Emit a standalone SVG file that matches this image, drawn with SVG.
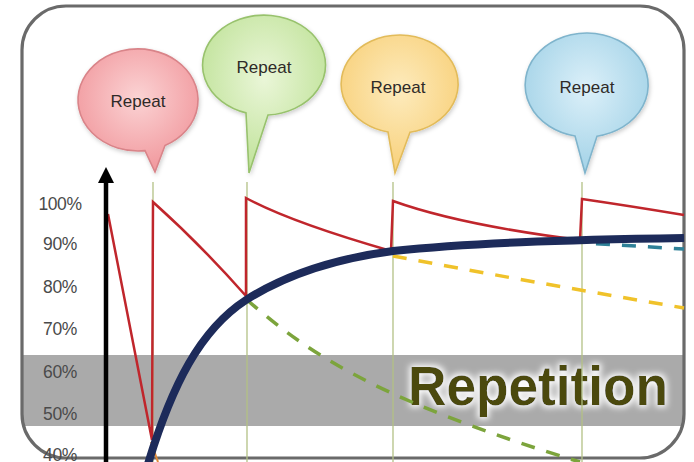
<svg xmlns="http://www.w3.org/2000/svg" width="694" height="462" viewBox="0 0 694 462">
  <style>
    .lbl { font-family: "Liberation Sans", Arial, sans-serif; font-size: 17.5px; fill: #4a4a4a; text-anchor: middle; letter-spacing: -0.4px; }
    .rep { font-family: "Liberation Sans", Arial, sans-serif; font-size: 17px; fill: #2e2a28; text-anchor: middle; }
    .vline { stroke: #b3c185; stroke-width: 1.3; fill: none; }
    .bub { stroke-width: 1.6; filter: url(#shadow); }
    .dash { fill: none; stroke-width: 3.5; stroke-dasharray: 14 12; }
  </style>
  <defs>
    <radialGradient id="gPink" cx="0.5" cy="0.4" r="0.6">
      <stop offset="0" stop-color="#fbd3d4"/>
      <stop offset="1" stop-color="#f1989d"/>
    </radialGradient>
    <radialGradient id="gGreen" cx="0.5" cy="0.4" r="0.6">
      <stop offset="0" stop-color="#eaf6d8"/>
      <stop offset="1" stop-color="#bfe298"/>
    </radialGradient>
    <radialGradient id="gYellow" cx="0.5" cy="0.4" r="0.6">
      <stop offset="0" stop-color="#fdebbd"/>
      <stop offset="1" stop-color="#f8d079"/>
    </radialGradient>
    <radialGradient id="gBlue" cx="0.5" cy="0.4" r="0.6">
      <stop offset="0" stop-color="#dcf0f9"/>
      <stop offset="1" stop-color="#a2d2e7"/>
    </radialGradient>
    <filter id="shadow" x="-20%" y="-20%" width="140%" height="140%">
      <feDropShadow dx="1" dy="2" stdDeviation="2" flood-color="#000" flood-opacity="0.2"/>
    </filter>
    <filter id="glow" x="-10%" y="-30%" width="120%" height="160%">
      <feMorphology in="SourceAlpha" operator="dilate" radius="1.5" result="d"/>
      <feGaussianBlur in="d" stdDeviation="3" result="b"/>
      <feFlood flood-color="#ffffff" result="f"/>
      <feComposite in="f" in2="b" operator="in" result="w"/>
      <feMerge>
        <feMergeNode in="w"/>
        <feMergeNode in="SourceGraphic"/>
      </feMerge>
    </filter>
    <clipPath id="frameClip">
      <rect x="22" y="6" width="662" height="452" rx="44" ry="44"/>
    </clipPath>
  </defs>

  <rect width="694" height="462" fill="#ffffff"/>

  <g id="band" clip-path="url(#frameClip)">
    <rect x="20" y="355" width="670" height="71" fill="#aaaaaa"/>
  </g>

  <g id="frame">
    <rect x="22" y="6" width="662" height="452" rx="44" ry="44" fill="none" stroke="#6a6a6a" stroke-width="3.2"/>
  </g>

  <g id="axis-labels">
    <text class="lbl" x="60" y="210">100%</text>
    <text class="lbl" x="60" y="250">90%</text>
    <text class="lbl" x="60" y="293">80%</text>
    <text class="lbl" x="60" y="335">70%</text>
    <text class="lbl" x="60" y="378">60%</text>
    <text class="lbl" x="60" y="420">50%</text>
    <text class="lbl" x="60" y="461">40%</text>
  </g>

  <g id="title">
    <text x="408" y="405" font-family="'Liberation Sans', Arial, sans-serif" font-weight="bold" font-size="56" fill="#4b4a0e" textLength="260" lengthAdjust="spacingAndGlyphs" filter="url(#glow)">Repetition</text>
  </g>

  <g id="connectors">
    <line class="vline" x1="153" y1="182" x2="153" y2="462"/>
    <line class="vline" x1="247" y1="182" x2="247" y2="462"/>
    <line class="vline" x1="393" y1="182" x2="393" y2="462"/>
    <line class="vline" x1="582" y1="182" x2="582" y2="462"/>

    <path class="dash" stroke="#7ca43c" d="M247,300 C300,345 360,395 580,462"/>
    <path class="dash" stroke="#f0c22a" d="M393,256 Q520,280 684,308"/>
    <path class="dash" stroke="#2f8198" d="M584,243 L684,249" stroke-dasharray="16 22" stroke-dashoffset="-12"/>
    <line x1="151" y1="442" x2="158" y2="462" stroke="#e08a3a" stroke-width="2"/>

    <path fill="none" stroke="#c0262c" stroke-width="2.5" stroke-linejoin="miter"
      d="M108,214 L152,440 L153,202 Q200,244 246,296 L246,198 Q290,222 391,251 L393,201 Q460,225 580,240 L582,199 Q630,206 684,215"/>

    <path fill="none" stroke="#1d2b5a" stroke-width="8" stroke-linecap="butt"
      d="M148,464 C172,385 200,330 246,300 C290,272 340,258 393,251 C470,243 560,240 684,238"/>

    <line x1="106" y1="462" x2="106" y2="180" stroke="#000" stroke-width="4.5"/>
    <polygon points="106,167 98,183 114,183" fill="#000"/>
  </g>

  <g id="bubble1">
    <path class="bub" fill="url(#gPink)" stroke="#d98489" d="M165,145.5 L155,172 L145,150.6 A60,51 0 1 1 165,145.5 Z"/>
    <text class="rep" x="138" y="107">Repeat</text>
  </g>
  <g id="bubble2">
    <path class="bub" fill="url(#gGreen)" stroke="#98c26d" d="M268,115 L249,173 L246,112.9 A61.5,50 0 1 1 268,115 Z"/>
    <text class="rep" x="264" y="73">Repeat</text>
  </g>
  <g id="bubble3">
    <path class="bub" fill="url(#gYellow)" stroke="#e2bb5a" d="M410,132.2 L395,173 L388,132 A58.5,49 0 1 1 410,132.2 Z"/>
    <text class="rep" x="398" y="93">Repeat</text>
  </g>
  <g id="bubble4">
    <path class="bub" fill="url(#gBlue)" stroke="#7fb4cc" d="M597,136.2 L585,173 L575,136 A61.5,52 0 1 1 597,136.2 Z"/>
    <text class="rep" x="587" y="93">Repeat</text>
  </g>
</svg>
